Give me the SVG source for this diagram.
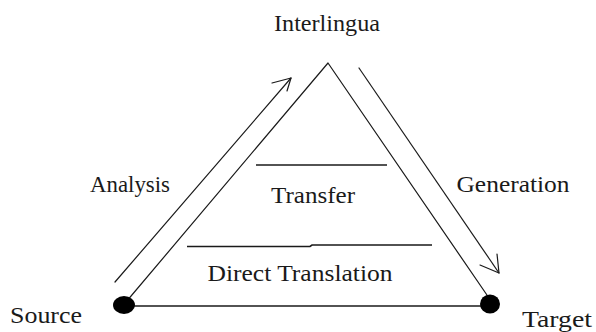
<svg xmlns="http://www.w3.org/2000/svg" width="596" height="332" viewBox="0 0 596 332">
  <style>
    .bg { fill: #ffffff; }
    .lbl { font-family: "Liberation Serif", "DejaVu Serif", serif; font-size: 24px; fill: #1a1a1a; }
    .edge { stroke: #1a1a1a; stroke-width: 1.2; fill: none; stroke-linecap: round; stroke-linejoin: round; }
    .rule { stroke: #1a1a1a; stroke-width: 1.6; fill: none; }
    .dot { fill: #000000; }
  </style>
  <rect class="bg" x="0" y="0" width="596" height="332"/>

  <!-- pyramid outline and level separators -->
  <g id="connectors">
    <polyline class="edge" points="126,302 328,63 489,298"/>
    <line class="rule" x1="124" y1="306" x2="490" y2="306"/>
    <line class="rule" x1="256" y1="165" x2="387" y2="165"/>
    <polyline class="rule" points="187,246.5 310,246.5 312,245 432,245"/>
    <!-- analysis arrow -->
    <line class="edge" x1="115" y1="282" x2="291" y2="78"/>
    <polyline class="edge" points="272,83 291,78 287,91"/>
    <!-- generation arrow -->
    <line class="edge" x1="359" y1="68" x2="499" y2="273"/>
    <polyline class="edge" points="480,265 499,273 497,254"/>
  </g>

  <g id="interlingua">
    <text class="lbl" x="327" y="31" text-anchor="middle" textLength="106" lengthAdjust="spacingAndGlyphs">Interlingua</text>
  </g>
  <g id="analysis">
    <text class="lbl" x="130" y="192" text-anchor="middle" textLength="80" lengthAdjust="spacingAndGlyphs">Analysis</text>
  </g>
  <g id="generation">
    <text class="lbl" x="513" y="192" text-anchor="middle" textLength="113" lengthAdjust="spacingAndGlyphs">Generation</text>
  </g>
  <g id="transfer">
    <text class="lbl" x="313" y="203" text-anchor="middle" textLength="84" lengthAdjust="spacingAndGlyphs">Transfer</text>
  </g>
  <g id="direct-translation">
    <text class="lbl" x="300" y="281" text-anchor="middle" textLength="185" lengthAdjust="spacingAndGlyphs">Direct Translation</text>
  </g>
  <g id="source">
    <ellipse class="dot" cx="124" cy="305" rx="11" ry="9"/>
    <text class="lbl" x="46" y="323" text-anchor="middle" textLength="72" lengthAdjust="spacingAndGlyphs">Source</text>
  </g>
  <g id="target">
    <ellipse class="dot" cx="490" cy="304" rx="10" ry="9.5"/>
    <text class="lbl" x="557" y="327" text-anchor="middle" textLength="70" lengthAdjust="spacingAndGlyphs">Target</text>
  </g>
</svg>
